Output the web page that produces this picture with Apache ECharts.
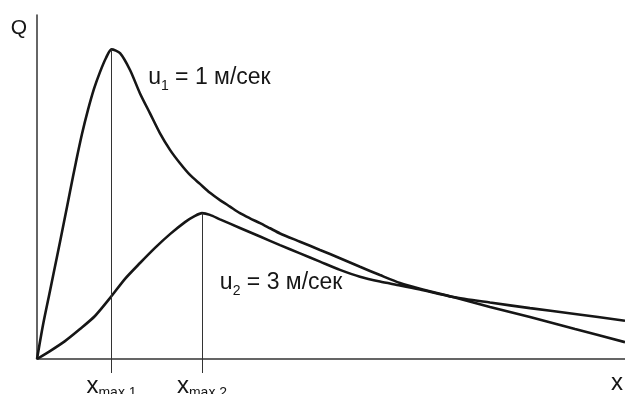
<!DOCTYPE html>
<html>
<head>
<meta charset="utf-8">
<script src="https://cdn.jsdelivr.net/npm/echarts@6/dist/echarts.min.js"></script>
<style>
html, body { margin: 0; padding: 0; background: #fff; }
#main { width: 625px; height: 394px; }
</style>
</head>
<body>
<div id="main"></div>
<script>
// curve u1 = 1 м/сек
var x1 = [0, 0.102, 0.221, 0.340, 0.459, 0.561, 0.663, 0.765, 0.867, 0.969, 1.071, 1.173, 1.267, 1.412, 1.582, 1.752, 1.922, 2.092, 2.262, 2.432, 2.602, 2.772, 2.942, 3.112, 3.282, 3.452, 3.622, 3.793, 3.963, 4.133, 4.473, 4.813, 5.153, 5.493, 5.833, 6.173, 6.514, 7.075, 7.704, 8.384, 9.150, 10];
var q1 = [0, 0.99, 1.98, 2.97, 3.98, 4.86, 5.73, 6.54, 7.24, 7.85, 8.34, 8.75, 9.00, 8.89, 8.40, 7.72, 7.14, 6.56, 6.08, 5.69, 5.35, 5.09, 4.83, 4.62, 4.43, 4.24, 4.09, 3.95, 3.80, 3.65, 3.41, 3.17, 2.93, 2.68, 2.44, 2.21, 2.04, 1.80, 1.51, 1.22, 0.87, 0.49];
// curve u2 = 3 м/сек
var x2 = [0, 0.221, 0.476, 0.731, 0.986, 1.241, 1.497, 1.752, 2.007, 2.262, 2.517, 2.687, 2.806, 2.942, 3.112, 3.452, 3.793, 4.133, 4.473, 4.813, 5.153, 5.493, 5.833, 6.173, 6.514, 7.075, 7.704, 8.384, 9.150, 10];
var q2 = [0, 0.23, 0.52, 0.87, 1.25, 1.77, 2.33, 2.79, 3.23, 3.63, 3.98, 4.16, 4.24, 4.19, 4.06, 3.81, 3.56, 3.31, 3.07, 2.83, 2.59, 2.39, 2.25, 2.14, 2.02, 1.80, 1.64, 1.48, 1.31, 1.11];

var peakX = [1.267, 2.806];
var peakQ = [9.00, 4.24];
var peakLabels = ['max 1', 'max 2'];
var curveNames = ['1', '2'];
var curveSpeeds = ['1 м/сек', '3 м/сек'];
var labelAt = [[1.89, 8.11], [3.11, 2.15]];

var dom = document.getElementById('main');
var myChart = echarts.init(dom);

function pairs(xs, ys) {
    return xs.map(function (x, i) { return [x, ys[i]]; });
}

var font = 'Liberation Sans, Arial, sans-serif';
var ink = '#161616';

function curve(i, data) {
    return {
        type: 'line',
        data: data,
        smooth: 0.25,
        showSymbol: false,
        lineStyle: { color: ink, width: 2.6 },
        markLine: {
            silent: true,
            symbol: 'none',
            label: { show: false },
            lineStyle: { color: '#333', width: 1, type: 'solid' },
            data: [[{ coord: [peakX[i], peakQ[i]] }, { coord: [peakX[i], 0] }]]
        },
        markPoint: {
            silent: true,
            symbolSize: 0,
            label: {
                show: true,
                position: 'right',
                distance: 0,
                formatter: '{u|u}{s|' + curveNames[i] + '}{u| = ' + curveSpeeds[i] + '}',
                rich: {
                    u: { fontFamily: font, fontSize: 23, color: ink, lineHeight: 27, verticalAlign: 'top' },
                    s: { fontFamily: font, fontSize: 14, color: ink, lineHeight: 27, verticalAlign: 'bottom' }
                }
            },
            data: [{ coord: labelAt[i] }]
        }
    };
}

var option = {
    animation: false,
    grid: { left: 37, right: 0, top: 15, bottom: 35, outerBoundsMode: 'none', containLabel: false },
    xAxis: {
        type: 'value',
        min: 0,
        max: 10,
        name: 'x',
        nameLocation: 'end',
        nameGap: -8,
        nameTextStyle: { fontFamily: font, fontSize: 24, color: ink, align: 'center', verticalAlign: 'top', padding: [12, 0, 0, 0] },
        splitLine: { show: false },
        axisLine: { lineStyle: { color: '#333', width: 1.5 } },
        axisTick: { show: true, customValues: peakX, length: 14, lineStyle: { color: '#333', width: 1 } },
        axisLabel: {
            customValues: peakX,
            margin: 15,
            formatter: function (v) {
                var k = peakX.indexOf(v);
                return '{x|x}{m|' + (k >= 0 ? peakLabels[k] : '') + '}';
            },
            rich: {
                x: { fontFamily: font, fontSize: 24, color: ink, lineHeight: 26, verticalAlign: 'top' },
                m: { fontFamily: font, fontSize: 14, color: ink, lineHeight: 26, verticalAlign: 'bottom' }
            }
        }
    },
    yAxis: {
        type: 'value',
        min: 0,
        max: 10,
        name: 'Q',
        nameLocation: 'end',
        nameGap: -13,
        nameTextStyle: { fontFamily: font, fontSize: 21, color: ink, align: 'right', verticalAlign: 'middle', padding: [0, 10, 0, 0] },
        splitLine: { show: false },
        axisLine: { show: true, lineStyle: { color: '#333', width: 1.5 } },
        axisTick: { show: false },
        axisLabel: { show: false }
    },
    series: [curve(0, pairs(x1, q1)), curve(1, pairs(x2, q2))]
};

myChart.setOption(option);
window.addEventListener('resize', function () {
    myChart.resize();
});
</script>
</body>
</html>
